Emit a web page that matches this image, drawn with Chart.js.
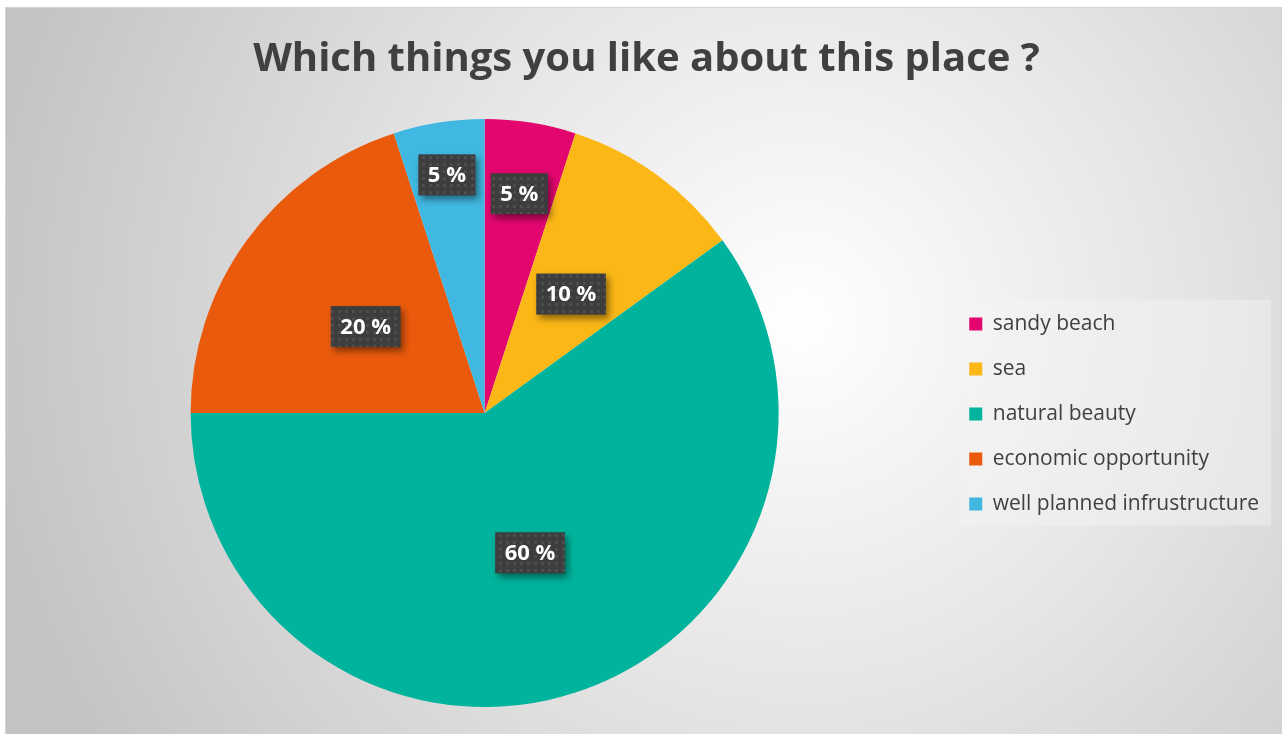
<!DOCTYPE html>
<html>
<head>
<meta charset="utf-8">
<title>Which things you like about this place ?</title>
<script src="https://cdn.jsdelivr.net/npm/chart.js@4.4.1/dist/chart.umd.min.js"></script>
<style>
  html, body { margin: 0; padding: 0; background: #ffffff; }
  canvas { display: block; }
</style>
</head>
<body>
<canvas id="likesPieChart" width="1285" height="734"></canvas>
<script>
const categories = ['sandy beach', 'sea', 'natural beauty', 'economic opportunity', 'well planned infrustructure'];
const shares = [5, 10, 60, 20, 5];
const sliceColors = ['#e2066e', '#fbb715', '#00b39c', '#ea5a0c', '#40b8e1'];

// frame + soft radial fill behind everything, plus the legend panel
const backdrop = {
    id: 'backdrop',
    beforeDraw(chart) {
        const ctx = chart.ctx;
        ctx.save();
        ctx.fillStyle = '#ffffff';
        ctx.fillRect(0, 0, chart.width, chart.height);
        const g = ctx.createRadialGradient(800, 320, 0, 800, 320, 820);
        g.addColorStop(0, '#ffffff');
        g.addColorStop(0.45, '#e6e6e6');
        g.addColorStop(1, '#c4c4c4');
        ctx.fillStyle = g;
        ctx.fillRect(5, 7, chart.width - 8, chart.height - 7);
        ctx.strokeStyle = '#d4d4d4';
        ctx.lineWidth = 1;
        ctx.strokeRect(5.5, 7.5, chart.width - 9, chart.height - 7);

        const boxes = chart.legend.legendHitBoxes;
        if (boxes && boxes.length) {
            const top = Math.min(...boxes.map(b => b.top)) - 14;
            const bottom = Math.max(...boxes.map(b => b.top + b.height)) + 11;
            const left = boxes[0].left - 8;
            ctx.fillStyle = 'rgba(245,245,245,0.45)';
            ctx.fillRect(left, top, 1271 - left, bottom - top);
        }
        ctx.restore();
    }
};

function dotPattern(ctx) {
    const tile = document.createElement('canvas');
    tile.width = 7;
    tile.height = 7;
    const t = tile.getContext('2d');
    t.fillStyle = '#3d3d3d';
    t.fillRect(0, 0, 7, 7);
    t.fillStyle = '#4d4d4d';
    t.fillRect(2, 2, 3, 3);
    return ctx.createPattern(tile, 'repeat');
}

// dark callout boxes with the percentage in each slice
const sliceLabels = {
    id: 'sliceLabels',
    afterDatasetsDraw(chart, args, opts) {
        const ctx = chart.ctx;
        const meta = chart.getDatasetMeta(0);
        const fill = dotPattern(ctx);
        ctx.save();
        ctx.font = 'bold 22px "Open Sans"';
        ctx.textAlign = 'center';
        ctx.textBaseline = 'middle';
        meta.data.forEach((arc, i) => {
            const mid = (arc.startAngle + arc.endAngle) / 2;
            const r = arc.outerRadius * opts.radius[i];
            const x = arc.x + Math.cos(mid) * r;
            const y = arc.y + Math.sin(mid) * r;
            const text = chart.data.datasets[0].data[i] + ' %';
            const w = ctx.measureText(text).width + 19;
            const h = 41;
            ctx.save();
            ctx.shadowColor = 'rgba(0,0,0,0.45)';
            ctx.shadowBlur = 7;
            ctx.shadowOffsetX = 3;
            ctx.shadowOffsetY = 4;
            ctx.fillStyle = fill;
            ctx.fillRect(x - w / 2, y - h / 2, w, h);
            ctx.restore();
            ctx.fillStyle = '#ffffff';
            ctx.fillText(text, x, y + 1);
        });
        ctx.restore();
    }
};

new Chart(document.getElementById('likesPieChart'), {
    type: 'pie',
    data: {
        labels: categories,
        datasets: [{
            data: shares,
            backgroundColor: sliceColors,
            borderWidth: 0
        }]
    },
    options: {
        responsive: false,
        animation: false,
        devicePixelRatio: 1,
        layout: {
            padding: { top: 7, left: 24, right: 16, bottom: 27 }
        },
        plugins: {
            title: {
                display: true,
                text: 'Which things you like about this place ?',
                color: '#404040',
                font: { family: 'Open Sans', size: 40, weight: 'bold', lineHeight: 1.2 },
                padding: { top: 29, bottom: 35 }
            },
            legend: {
                position: 'right',
                title: {
                    display: true,
                    text: ' ',
                    font: { size: 10, lineHeight: 1.2 },
                    padding: 51
                },
                labels: {
                    color: '#404040',
                    font: { family: 'Open Sans', size: 21 },
                    boxWidth: 13,
                    boxHeight: 13,
                    padding: 24
                }
            },
            tooltip: { enabled: false },
            sliceLabels: {
                radius: [0.755, 0.5, 0.5, 0.5, 0.82]
            }
        }
    },
    plugins: [backdrop, sliceLabels]
});
</script>
</body>
</html>
